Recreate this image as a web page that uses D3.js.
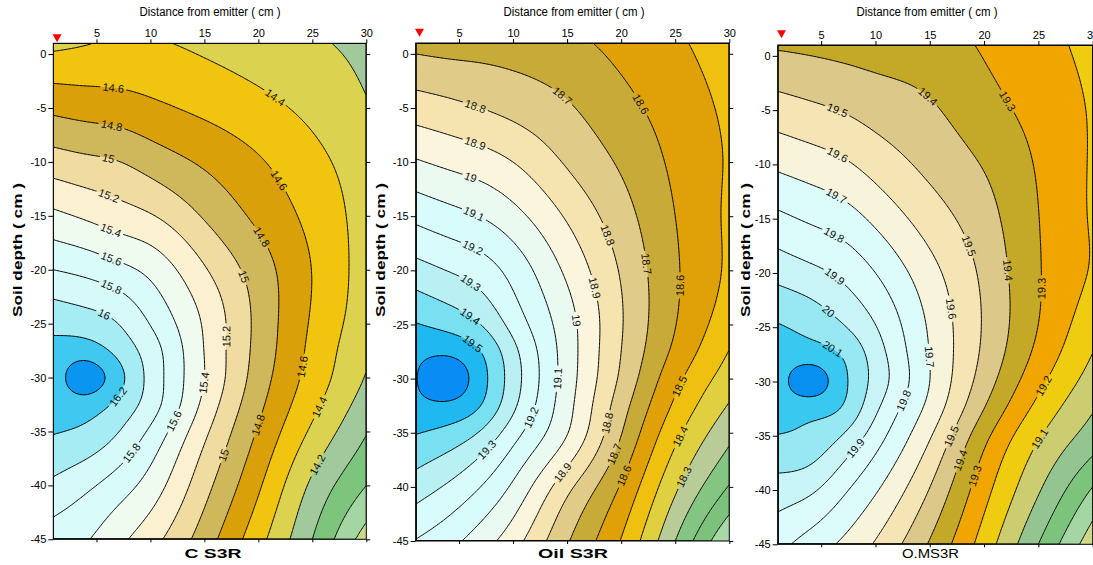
<!DOCTYPE html>
<html lang="en">
<head>
<meta charset="utf-8">
<title>Soil moisture distribution around the emitter</title>
<script src="https://cdn.jsdelivr.net/npm/d3@7/dist/d3.min.js"></script>
<style>
  html, body { margin: 0; padding: 0; background: #fff; }
  svg text { font-family: "Liberation Sans", Arial, Helvetica, sans-serif; }
</style>
</head>
<body>
<svg id="chart" width="1093" height="565" xmlns="http://www.w3.org/2000/svg"></svg>
<script>
// ---- measurement grid (cm) ----
const distanceNodes = [1, 4, 7, 10, 15, 20, 25, 30];
const depthNodes = [1, -5, -10, -15, -20, -25, -27.5, -30, -32.5, -35, -40, -45];
const distanceTicks = [5, 10, 15, 20, 25, 30];
const depthTicks = [0, -5, -10, -15, -20, -25, -30, -35, -40, -45];

// ---- C S3R : one row per depth node, one value per distance node ----
const gridC = [
  [14.35, 14.39, 14.425, 14.42, 14.36, 14.293, 14.225, 14.155],
  [14.754, 14.72, 14.694, 14.644, 14.556, 14.46, 14.35, 14.215],
  [15.095, 15.047, 15.005, 14.916, 14.769, 14.621, 14.46, 14.29],
  [15.445, 15.371, 15.293, 15.215, 14.98, 14.755, 14.54, 14.316],
  [15.80, 15.745, 15.66, 15.545, 15.22, 14.90, 14.595, 14.31],
  [16.145, 16.103, 16.0, 15.791, 15.375, 14.945, 14.575, 14.28],
  [16.25, 16.30, 16.14, 15.90, 15.395, 14.935, 14.55, 14.237],
  [16.28, 16.5, 16.27, 15.935, 15.40, 14.905, 14.52, 14.186],
  [16.26, 16.31, 16.15, 15.90, 15.345, 14.85, 14.455, 14.105],
  [16.21, 16.16, 16.007, 15.765, 15.245, 14.78, 14.365, 14.013],
  [15.954, 15.844, 15.70, 15.514, 15.07, 14.63, 14.16, 13.80],
  [15.70, 15.617, 15.455, 15.277, 14.90, 14.47, 14.00, 13.50]
];
const levelsC = [13.6, 13.8, 14.0, 14.2, 14.4, 14.6, 14.8, 15.0, 15.2, 15.4, 15.6, 15.8, 16.0, 16.2, 16.4];
const colorsC = ["#cdd98a", "#a3d6a3", "#7dc47c", "#a2c99b", "#dbd250", "#f0c40f", "#d9a009", "#cfb75b",
                 "#f0dba0", "#fbf0d0", "#eefbee", "#d9fbfa", "#d6fafa", "#a6ecf4", "#40c8f0", "#0a96f0"];
const labelsC = [
  [14.6, 6.54, -3.33], [14.8, 6.39, -6.72], [15.0, 6.07, -9.8], [15.2, 6.23, -12.94], [15.4, 6.39, -16.17],
  [15.6, 6.39, -18.95], [15.8, 6.39, -21.57], [16.0, 5.77, -24.0], [16.2, 6.9, -31.7], [15.8, 8.39, -37.1],
  [15.6, 12.25, -34.05], [15.4, 15.03, -30.5], [15.2, 17.03, -26.2], [15.0, 17.1, -37.3], [14.8, 20.28, -34.5],
  [14.6, 24.13, -29.0], [14.4, 25.6, -32.7], [14.2, 25.3, -38.0], [14.4, 21.67, -3.85], [14.6, 21.9, -11.71],
  [14.8, 20.28, -16.95], [15.0, 18.64, -20.65]
];

// ---- Oil S3R ----
const gridOil = [
  [18.67, 18.66, 18.66, 18.655, 18.625, 18.57, 18.515, 18.45],
  [18.851, 18.827, 18.80, 18.77, 18.711, 18.632, 18.555, 18.48],
  [19.01, 18.978, 18.947, 18.90, 18.789, 18.686, 18.58, 18.49],
  [19.175, 19.137, 19.098, 19.035, 18.888, 18.742, 18.60, 18.483],
  [19.339, 19.297, 19.25, 19.165, 18.98, 18.79, 18.613, 18.483],
  [19.505, 19.47, 19.40, 19.265, 19.042, 18.808, 18.603, 18.44],
  [19.57, 19.58, 19.50, 19.33, 19.052, 18.80, 18.577, 18.397],
  [19.595, 19.66, 19.54, 19.35, 19.05, 18.782, 18.53, 18.35],
  [19.57, 19.58, 19.50, 19.322, 19.035, 18.745, 18.482, 18.292],
  [19.505, 19.47, 19.39, 19.243, 19.005, 18.705, 18.428, 18.23],
  [19.35, 19.286, 19.20, 19.083, 18.83, 18.59, 18.318, 18.093],
  [19.195, 19.133, 19.049, 18.942, 18.71, 18.495, 18.20, 17.90]
];
const levelsOil = [18.0, 18.1, 18.2, 18.3, 18.4, 18.5, 18.6, 18.7, 18.8, 18.9, 19.0, 19.1, 19.2, 19.3, 19.4, 19.5, 19.6];
const colorsOil = ["#a8d8a8", "#7cc27c", "#84c584", "#b9cc98", "#e0d040", "#f0c010", "#e0a008", "#c8aa38", "#e0cc88",
                   "#f5e4b0", "#faf5dc", "#eafaf0", "#d8fcfc", "#d8fcfc", "#b8f0f4", "#78e0f0", "#20b8f0", "#0a8cf5"];
const labelsOil = [
  [18.7, 14.69, -3.72], [18.6, 22.07, -4.49], [18.8, 6.53, -4.8], [18.9, 6.53, -8.18], [19.0, 6.07, -11.41],
  [19.1, 6.38, -14.79], [19.2, 6.23, -18.02], [19.3, 6.23, -20.94], [18.8, 19.08, -16.63], [18.7, 22.83, -19.34],
  [18.6, 25.6, -21.4], [18.9, 17.76, -21.56], [19.4, 6.23, -24.0], [19.5, 6.23, -26.8], [19.1, 14.07, -30.0],
  [19.2, 11.6, -33.55], [19.3, 7.61, -36.6], [19.0, 16.07, -24.6], [18.8, 18.2, -34.0], [18.7, 18.99, -36.8],
  [18.6, 19.9, -38.8], [18.9, 14.5, -38.6], [18.5, 25.6, -30.8], [18.4, 25.6, -35.4], [18.3, 25.4, -38.9]
];

// ---- O.MS3R ----
const gridOms = [
  [19.387, 19.377, 19.365, 19.356, 19.342, 19.29, 19.235, 19.17],
  [19.546, 19.521, 19.495, 19.461, 19.413, 19.338, 19.267, 19.19],
  [19.681, 19.651, 19.616, 19.561, 19.474, 19.393, 19.29, 19.19],
  [19.823, 19.786, 19.747, 19.678, 19.552, 19.44, 19.302, 19.19],
  [19.966, 19.927, 19.878, 19.80, 19.635, 19.478, 19.308, 19.19],
  [20.108, 20.074, 20.01, 19.905, 19.687, 19.49, 19.298, 19.134],
  [20.14, 20.15, 20.09, 19.952, 19.698, 19.48, 19.272, 19.098],
  [20.15, 20.25, 20.126, 19.965, 19.70, 19.452, 19.227, 19.056],
  [20.14, 20.14, 20.09, 19.92, 19.668, 19.40, 19.17, 19.008],
  [20.097, 20.076, 19.995, 19.849, 19.61, 19.33, 19.11, 18.955],
  [19.954, 19.917, 19.819, 19.711, 19.495, 19.235, 19.01, 18.79],
  [19.83, 19.757, 19.682, 19.59, 19.39, 19.155, 18.90, 18.636]
];
const levelsOms = [18.7, 18.8, 18.9, 19.0, 19.1, 19.2, 19.3, 19.4, 19.5, 19.6, 19.7, 19.8, 19.9, 20.0, 20.1, 20.2];
const colorsOms = ["#d0d88c", "#a4d6a4", "#7cc47c", "#94c490", "#cccc70", "#f0cc10", "#f0a500", "#c4a828", "#dcc888",
                   "#f5e4b4", "#f8f4dc", "#dcfcfc", "#dcfcfc", "#c8f4f8", "#98e8f4", "#38c8f0", "#0890f0"];
const labelsOms = [
  [19.4, 14.79, -3.78], [19.3, 22.31, -4.09], [19.5, 6.5, -5.0], [19.6, 6.5, -9.15], [19.7, 6.35, -12.99],
  [19.8, 6.2, -16.5], [19.9, 6.35, -20.2], [19.5, 18.78, -17.44], [19.4, 22.31, -19.74], [19.3, 25.23, -21.43],
  [20.0, 5.89, -23.27], [20.1, 6.2, -26.8], [19.6, 17.09, -23.27], [19.7, 14.94, -27.73], [19.8, 12.49, -31.71],
  [19.9, 8.2, -36.16], [19.5, 17.09, -35.09], [19.4, 18.17, -37.39], [19.3, 19.39, -38.77], [19.2, 25.38, -30.33],
  [19.1, 25.07, -35.24]
];

const panelNames = ["C S3R", "Oil S3R", "O.MS3R"];

// ---- page layout (pixels) ----
const layout = [
  { left: 53.3, right: 366.3, top: 43.3, bottom: 539.3, titleX: 210, footX: 213, footBold: true, footLen: 57, yTitleX: 17, markerTip: 42.3 },
  { left: 415.7, right: 729.3, top: 43.0, bottom: 541.0, titleX: 574, footX: 573, footBold: true, footLen: 70, yTitleX: 380, markerTip: 36.7 },
  { left: 777.7, right: 1092.7, top: 45.0, bottom: 544.3, titleX: 927, footX: 930.5, footBold: false, footLen: 57, yTitleX: 745, markerTip: 38.3 }
];

const panels = [
  { grid: gridC, levels: levelsC, colors: colorsC, labels: labelsC },
  { grid: gridOil, levels: levelsOil, colors: colorsOil, labels: labelsOil },
  { grid: gridOms, levels: levelsOms, colors: colorsOms, labels: labelsOms }
];

// ---- smooth surface through the grid nodes (tensor natural cubic spline) ----
function naturalSpline(xs, ys) {
  const n = xs.length, h = [], a = [], l = [], mu = [], z = [], c = [], b = [], d = [];
  for (let i = 0; i < n - 1; i++) h[i] = xs[i + 1] - xs[i];
  for (let i = 1; i < n - 1; i++) a[i] = 3 / h[i] * (ys[i + 1] - ys[i]) - 3 / h[i - 1] * (ys[i] - ys[i - 1]);
  l[0] = 1; mu[0] = 0; z[0] = 0;
  for (let i = 1; i < n - 1; i++) {
    l[i] = 2 * (xs[i + 1] - xs[i - 1]) - h[i - 1] * mu[i - 1];
    mu[i] = h[i] / l[i];
    z[i] = (a[i] - h[i - 1] * z[i - 1]) / l[i];
  }
  c[n - 1] = 0;
  for (let j = n - 2; j >= 0; j--) {
    c[j] = z[j] - mu[j] * c[j + 1];
    b[j] = (ys[j + 1] - ys[j]) / h[j] - h[j] * (c[j + 1] + 2 * c[j]) / 3;
    d[j] = (c[j + 1] - c[j]) / (3 * h[j]);
  }
  return t => {
    let i = n - 2;
    for (let k = 0; k < n - 1; k++) if (t <= xs[k + 1]) { i = k; break; }
    const dx = t - xs[i];
    return ys[i] + b[i] * dx + c[i] * dx * dx + d[i] * dx * dx * dx;
  };
}

const X0 = 1, X1 = 30, Y0 = 1, Y1 = -45;
const NX = 232, NY = 368;
const SX = (X1 - X0) / NX, SY = (Y0 - Y1) / NY;

function buildField(grid) {
  const depthKnots = depthNodes.map(v => -v);
  const fx = d3.range(NX).map(i => X0 + (i + 0.5) * SX);
  const fd = d3.range(NY).map(j => -(Y0 - (j + 0.5) * SY));
  const rows = grid.map(row => fx.map(naturalSpline(distanceNodes, row)));
  const values = new Float64Array(NX * NY);
  for (let i = 0; i < NX; i++) {
    const s = naturalSpline(depthKnots, rows.map(r => r[i]));
    for (let j = 0; j < NY; j++) values[j * NX + i] = s(fd[j]);
  }
  return values;
}

function sampler(values) {
  const at = (x, y) => {
    let u = (x - X0) / SX - 0.5, v = (Y0 - y) / SY - 0.5;
    u = Math.max(0, Math.min(NX - 1.001, u)); v = Math.max(0, Math.min(NY - 1.001, v));
    const i = Math.floor(u), j = Math.floor(v), fu = u - i, fv = v - j;
    const q = (ii, jj) => values[jj * NX + ii];
    return (q(i, j) * (1 - fu) + q(i + 1, j) * fu) * (1 - fv) + (q(i, j + 1) * (1 - fu) + q(i + 1, j + 1) * fu) * fv;
  };
  const grad = (x, y) => {
    const e = 0.2;
    return [(at(x + e, y) - at(x - e, y)) / (2 * e), (at(x, y + e) - at(x, y - e)) / (2 * e)];
  };
  return { at, grad };
}

const svg = d3.select("#chart");
const defs = svg.append("defs");
const fontFamily = '"Liberation Sans", Arial, Helvetica, sans-serif';

panels.forEach((p, k) => {
  const L = layout[k];
  const x = d3.scaleLinear().domain([X0, X1]).range([L.left, L.right]);
  const y = d3.scaleLinear().domain([Y0, Y1]).range([L.top, L.bottom]);
  const values = buildField(p.grid);
  const field = sampler(values);
  const bands = d3.contours().size([NX, NY]).thresholds(p.levels)(values);
  const proj = d3.geoTransform({
    point(px, py) { this.stream.point(x(X0 + px * SX), y(Y0 - py * SY)); }
  });
  const path = d3.geoPath(proj);

  defs.append("clipPath").attr("id", "plot-clip-" + k)
    .append("rect").attr("x", L.left).attr("y", L.top)
    .attr("width", L.right - L.left).attr("height", L.bottom - L.top);

  const plot = svg.append("g").attr("clip-path", `url(#plot-clip-${k})`);
  plot.append("rect").attr("x", L.left).attr("y", L.top)
    .attr("width", L.right - L.left).attr("height", L.bottom - L.top)
    .attr("fill", p.colors[0]);
  plot.selectAll("path.band").data(bands).join("path")
    .attr("class", "band")
    .attr("d", path)
    .attr("fill-rule", "evenodd")
    .attr("fill", (d, i) => p.colors[i + 1]);

  // contour labels, placed on their isoline and turned along it
  const mask = defs.append("mask").attr("id", "label-gap-" + k)
    .attr("maskUnits", "userSpaceOnUse").attr("x", 0).attr("y", 0).attr("width", 1093).attr("height", 565);
  mask.append("rect").attr("x", 0).attr("y", 0).attr("width", 1093).attr("height", 565).attr("fill", "#fff");

  const kx = (L.right - L.left) / (X1 - X0), ky = (L.bottom - L.top) / (Y0 - Y1);
  const labelLayer = svg.append("g").attr("font-family", fontFamily).attr("font-size", 11);
  p.labels.forEach(([lv, lx, ly]) => {
    let px = lx, py = ly;
    for (let it = 0; it < 30; it++) {
      const f = field.at(px, py) - lv;
      const [gx, gy] = field.grad(px, py);
      const g2 = gx * gx + gy * gy;
      if (g2 < 1e-9) break;
      px -= f * gx / g2; py -= f * gy / g2;
    }
    const [gx, gy] = field.grad(px, py);
    let ang = Math.atan2(-gx * ky, -gy * kx) * 180 / Math.PI;
    if (ang > 90) ang -= 180;
    if (ang < -90) ang += 180;
    const cx = x(px), cy = y(py);
    const t = labelLayer.append("text")
      .attr("transform", `translate(${cx},${cy}) rotate(${ang})`)
      .attr("text-anchor", "middle").attr("dy", "0.36em")
      .attr("fill", "#111")
      .text(String(+lv.toFixed(1)));
    const w = t.node().getComputedTextLength() + 5;
    mask.append("rect").attr("x", -w / 2).attr("y", -5.5).attr("width", w).attr("height", 11)
      .attr("transform", `translate(${cx},${cy}) rotate(${ang})`).attr("fill", "#000");
  });

  plot.append("g").attr("mask", `url(#label-gap-${k})`)
    .selectAll("path").data(bands).join("path")
    .attr("d", path).attr("fill", "none")
    .attr("stroke", "#000").attr("stroke-width", 1);

  labelLayer.raise();

  // frame and axes
  svg.append("rect").attr("x", L.left).attr("y", L.top)
    .attr("width", L.right - L.left).attr("height", L.bottom - L.top)
    .attr("fill", "none").attr("stroke", "#000").attr("stroke-width", 1);

  const styleAxis = g => {
    g.attr("font-family", fontFamily).attr("font-size", 11);
    g.select(".domain").remove();
    g.selectAll("line").attr("stroke", "#000");
    g.selectAll("text").attr("fill", "#000");
  };
  svg.append("g").attr("transform", `translate(0,${L.top})`)
    .call(d3.axisTop(x).tickValues(distanceTicks).tickSize(4).tickPadding(2).tickFormat(d => String(d)))
    .call(styleAxis);
  svg.append("g").attr("transform", `translate(0,${L.bottom})`)
    .call(d3.axisBottom(x).tickValues(distanceTicks).tickSize(3).tickFormat(() => ""))
    .call(styleAxis);
  svg.append("g").attr("transform", `translate(${L.left},0)`)
    .call(d3.axisLeft(y).tickValues(depthTicks).tickSize(5).tickPadding(2).tickFormat(d => String(d)))
    .call(styleAxis);
  svg.append("g").attr("transform", `translate(${L.right},0)`)
    .call(d3.axisRight(y).tickValues(depthTicks).tickSize(4).tickFormat(() => ""))
    .call(styleAxis);

  // emitter marker
  const mx = x(1.35);
  svg.append("path")
    .attr("d", `M${mx - 4.5},${L.markerTip - 8}L${mx + 4.5},${L.markerTip - 8}L${mx},${L.markerTip}Z`)
    .attr("fill", "#ff0000");

  // titles
  svg.append("text").attr("x", L.titleX).attr("y", 15.5)
    .attr("text-anchor", "middle").attr("font-size", 12).attr("font-family", fontFamily)
    .attr("textLength", 141).attr("lengthAdjust", "spacingAndGlyphs")
    .text("Distance from emitter ( cm )");
  svg.append("text")
    .attr("transform", `translate(${L.yTitleX},250) rotate(-90)`)
    .attr("text-anchor", "middle").attr("dy", "0.35em")
    .attr("font-size", 13).attr("font-weight", "bold").attr("font-family", fontFamily)
    .attr("textLength", 134).attr("lengthAdjust", "spacingAndGlyphs")
    .text("Soil depth ( cm )");
  svg.append("text").attr("x", L.footX).attr("y", 557.5)
    .attr("text-anchor", "middle").attr("font-size", 12)
    .attr("font-weight", L.footBold ? "bold" : "normal").attr("font-family", fontFamily)
    .attr("textLength", L.footLen).attr("lengthAdjust", "spacingAndGlyphs")
    .text(panelNames[k]);
});
</script>
</body>
</html>
